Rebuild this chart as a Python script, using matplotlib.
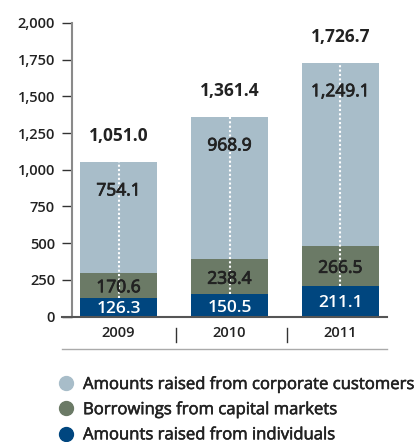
import matplotlib
matplotlib.use("Agg")
import matplotlib.pyplot as plt
import matplotlib.patheffects as pe
from matplotlib.lines import Line2D

plt.rcParams['font.family'] = ['Open Sans', 'DejaVu Sans']

years = ["2009", "2010", "2011"]
individuals = [126.3, 150.5, 211.1]
capital_markets = [170.6, 238.4, 266.5]
corporate = [754.1, 968.9, 1249.1]
totals = [1051.0, 1361.4, 1726.7]
yticks = [0, 250, 500, 750, 1000, 1250, 1500, 1750, 2000]
series_names = ["Amounts raised from corporate customers",
                "Borrowings from capital markets",
                "Amounts raised from individuals"]

c_corp = "#a8bdc9"
c_cap = "#6b7a66"
c_ind = "#00467f"
c_text = "#222222"

# slightly heavier rendering of the regular weight
heavy = [pe.withStroke(linewidth=0.6, foreground=c_text)]

W, H = 415, 442
fig = plt.figure(figsize=(W / 100, H / 100), dpi=100)
ax = fig.add_axes([72 / W, (H - 316.5) / H, 315 / W, 293.5 / H])

x = list(range(len(years)))
width = 0.7
bottom_cap = individuals
bottom_corp = [a + b for a, b in zip(individuals, capital_markets)]
tops = [a + b for a, b in zip(bottom_corp, corporate)]

ax.bar(x, individuals, width, color=c_ind, zorder=2)
ax.bar(x, capital_markets, width, bottom=bottom_cap, color=c_cap, zorder=2)
ax.bar(x, corporate, width, bottom=bottom_corp, color=c_corp, zorder=2)

# dotted centre line through the upper segments
for xi, lo, hi in zip(x, individuals, tops):
    ax.plot([xi, xi], [lo, hi], color="white", lw=1.5,
            linestyle=(0, (1, 1.1)), zorder=3)

for xi in x:
    # segment values
    ax.annotate(f"{corporate[xi]:,.1f}", (xi, tops[xi]), xytext=(0, -21),
                textcoords="offset points", ha="center", va="center",
                fontsize=12.5, color=c_text, path_effects=heavy, zorder=4)
    ax.annotate(f"{capital_markets[xi]:,.1f}",
                (xi, bottom_cap[xi] + capital_markets[xi] / 2), xytext=(0, -2),
                textcoords="offset points", ha="center", va="center",
                fontsize=12.5, color=c_text, path_effects=heavy, zorder=4)
    ax.annotate(f"{individuals[xi]:,.1f}", (xi, individuals[xi] / 2),
                xytext=(0, -1.5), textcoords="offset points",
                ha="center", va="center", fontsize=12.5, color="white",
                fontweight="semibold", zorder=4)
    # totals
    ax.annotate(f"{totals[xi]:,.1f}", (xi, tops[xi]), xytext=(0, 19),
                textcoords="offset points", ha="center", va="center",
                fontsize=12.5, color=c_text, fontweight="bold", zorder=4)

ax.set_xlim(-0.42, 2.42)
ax.set_ylim(0, 2000)
ax.set_yticks(yticks)
ax.set_yticklabels([f"{v:,}" for v in yticks], fontsize=10.5,
                   fontweight="semibold", color=c_text)
ax.tick_params(axis="y", length=7.2, width=1, color="#333333", pad=5)
ax.set_xticks([])
for s in ("top", "right", "bottom"):
    ax.spines[s].set_visible(False)
ax.spines["left"].set_color("#8a8a8a")
ax.spines["left"].set_linewidth(1.5)
ax.patch.set_visible(False)

# category labels and separators below the axis
for xi, yr in zip(x, years):
    ax.annotate(yr, (xi, 0), xytext=(0, -12), textcoords="offset points",
                ha="center", va="center", fontsize=10.5, fontweight="semibold",
                color=c_text, annotation_clip=False)
for xi in x[:-1]:
    ax.plot([xi + 0.52, xi + 0.52], [-75, -175], color="#333333", lw=1,
            clip_on=False)

# baseline and lower rule
fig.add_artist(Line2D([62 / W, 387 / W], [(H - 316.5) / H] * 2,
                      color="#555555", lw=1.5))
fig.add_artist(Line2D([62 / W, 387 / W], [(H - 349) / H] * 2,
                      color="#aaaaaa", lw=1))

handles = [Line2D([], [], marker="o", linestyle="none", markersize=10,
                  markerfacecolor=c, markeredgecolor=c)
           for c in (c_corp, c_cap, c_ind)]
leg = fig.legend(handles, series_names, loc="upper left",
                 bbox_to_anchor=(58 / W, (H - 377) / H), frameon=False,
                 fontsize=12, labelspacing=0.55, handlelength=1.0,
                 handletextpad=0.5, borderpad=0, borderaxespad=0,
                 labelcolor=c_text)
for t in leg.get_texts():
    t.set_path_effects([pe.withStroke(linewidth=0.4, foreground=c_text)])

fig.savefig("out.png", dpi=100)
